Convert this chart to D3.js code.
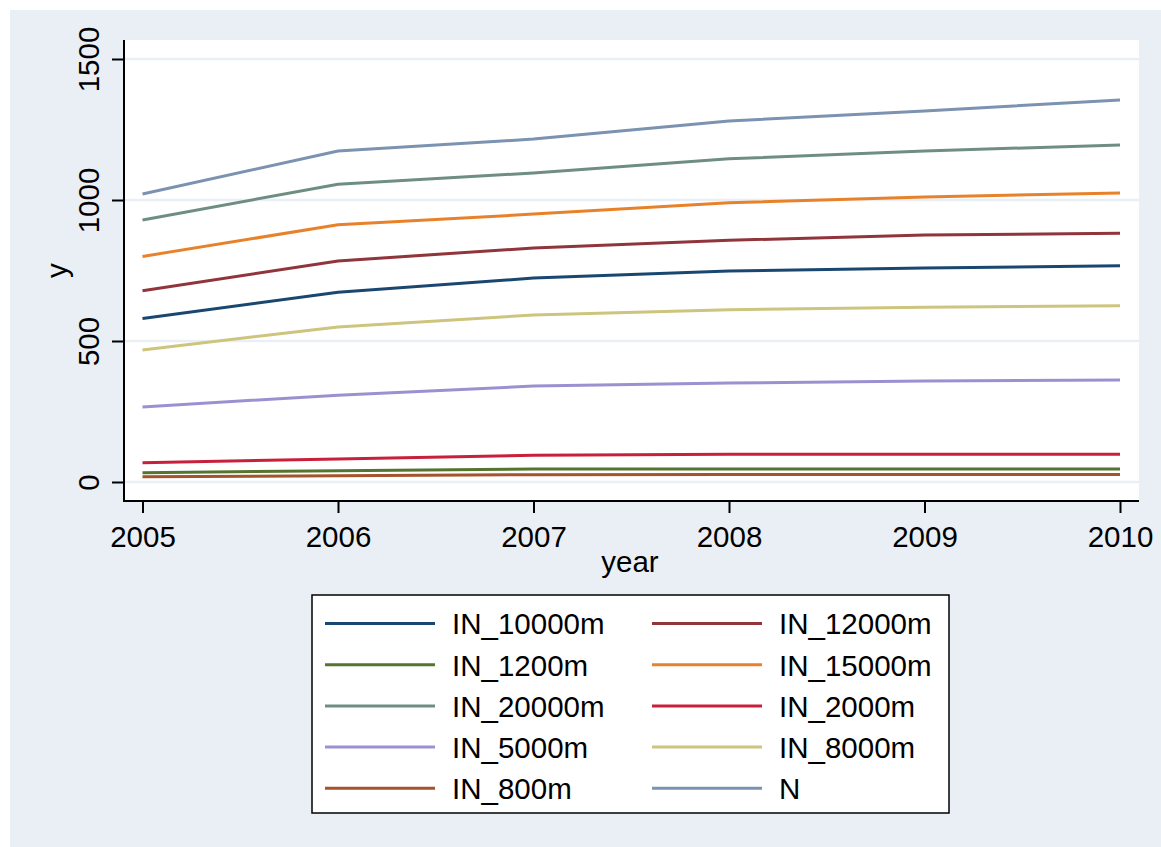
<!DOCTYPE html>
<html>
<head>
<meta charset="utf-8">
<script src="https://cdn.jsdelivr.net/npm/d3@7"></script>
<style>
  html, body { margin: 0; padding: 0; background: #ffffff; }
  svg { display: block; font-family: "Liberation Sans", Arial, sans-serif; }
</style>
</head>
<body>
<svg id="chart" width="1161" height="847"></svg>
<script>
// Years on the x axis
const years = [2005, 2006, 2007, 2008, 2009, 2010];

// One array per variable, one value per year
const IN_10000m = [580, 673, 723, 748, 759, 767];
const IN_12000m = [678, 784, 830, 857, 876, 882];
const IN_1200m  = [33, 40, 46, 46, 46, 46];
const IN_15000m = [800, 912, 950, 990, 1011, 1025];
const IN_20000m = [929, 1056, 1096, 1146, 1174, 1195];
const IN_2000m  = [68, 82, 95, 98, 98, 98];
const IN_5000m  = [266, 308, 340, 351, 358, 362];
const IN_8000m  = [468, 550, 592, 611, 620, 625];
const IN_800m   = [19, 22, 26, 27, 27, 27];
const N_total   = [1021, 1174, 1216, 1280, 1316, 1355];

// Series order (legend order) and names
const seriesNames = ["IN_10000m", "IN_12000m", "IN_1200m", "IN_15000m", "IN_20000m",
                     "IN_2000m", "IN_5000m", "IN_8000m", "IN_800m", "N"];
const seriesValues = [IN_10000m, IN_12000m, IN_1200m, IN_15000m, IN_20000m,
                      IN_2000m, IN_5000m, IN_8000m, IN_800m, N_total];
const seriesColors = ["#1a476f", "#90353b", "#55752f", "#e8822a", "#6e8e84",
                      "#c8203a", "#9a92d0", "#cdc47e", "#a5532c", "#7b92b0"];

// Axis ticks
const yTicks = [0, 500, 1000, 1500];
const xTicks = years;

const bg = "#eaeef5";
const fontSize = 29.5;
const svg = d3.select("#chart");

// Graph region
svg.append("rect").attr("x", 10).attr("y", 10)
  .attr("width", 1151).attr("height", 837).attr("fill", bg);

// Plot region
const plot = { left: 124, right: 1139, top: 40, bottom: 501 };
svg.append("rect")
  .attr("x", plot.left).attr("y", plot.top)
  .attr("width", plot.right - plot.left).attr("height", plot.bottom - plot.top)
  .attr("fill", "#ffffff");

const x = d3.scaleLinear().domain([2005, 2010]).range([142.5, 1120]);
const y = d3.scaleLinear().domain([0, 1500]).range([482, 59]);

// Horizontal grid lines
svg.append("g").selectAll("line").data(yTicks).join("line")
  .attr("x1", plot.left).attr("x2", plot.right)
  .attr("y1", d => y(d)).attr("y2", d => y(d))
  .attr("stroke", bg).attr("stroke-width", 2.5);

// Series lines
const line = d3.line().x((d, i) => x(years[i])).y(d => y(d));
svg.append("g").selectAll("path").data(seriesValues).join("path")
  .attr("d", d => line(d))
  .attr("fill", "none")
  .attr("stroke", (d, i) => seriesColors[i])
  .attr("stroke-width", 3)
  .attr("stroke-linejoin", "round");

// Y axis
const yAxis = d3.axisLeft(y).tickValues(yTicks).tickSize(12).tickPadding(0).tickFormat(d3.format("d"));
const gy = svg.append("g").attr("transform", `translate(${plot.left},0)`).call(yAxis);
gy.select(".domain").remove();
gy.selectAll(".tick line").attr("stroke", "#000").attr("stroke-width", 2);
gy.selectAll(".tick text")
  .attr("font-size", fontSize).attr("fill", "#000")
  .attr("text-anchor", "middle")
  .attr("x", null).attr("dy", null)
  .attr("transform", "translate(-25,0) rotate(-90)");
svg.append("line")
  .attr("x1", plot.left).attr("x2", plot.left)
  .attr("y1", plot.top).attr("y2", plot.bottom + 1)
  .attr("stroke", "#000").attr("stroke-width", 2);

// X axis
const xAxis = d3.axisBottom(x).tickValues(xTicks).tickSize(12).tickPadding(0).tickFormat(d3.format("d"));
const gx = svg.append("g").attr("transform", `translate(0,${plot.bottom})`).call(xAxis);
gx.select(".domain").remove();
gx.selectAll(".tick line").attr("stroke", "#000").attr("stroke-width", 2);
gx.selectAll(".tick text")
  .attr("font-size", fontSize).attr("fill", "#000")
  .attr("y", 45.5).attr("dy", null);
svg.append("line")
  .attr("x1", plot.left - 1).attr("x2", plot.right)
  .attr("y1", plot.bottom).attr("y2", plot.bottom)
  .attr("stroke", "#000").attr("stroke-width", 2);

// Axis titles
svg.append("text").attr("x", 630).attr("y", 572)
  .attr("text-anchor", "middle").attr("font-size", fontSize).text("year");
svg.append("text")
  .attr("transform", `translate(67,${(plot.top + plot.bottom) / 2}) rotate(-90)`)
  .attr("text-anchor", "middle").attr("font-size", fontSize).text("y");

// Legend
const legend = svg.append("g");
legend.append("rect")
  .attr("x", 312).attr("y", 595).attr("width", 637).attr("height", 218)
  .attr("fill", "#ffffff").attr("stroke", "#000").attr("stroke-width", 1.5);

const colX = [325, 652];
const rowY0 = 623.5, rowStep = 41.2;
const items = legend.selectAll("g.item").data(seriesNames).join("g")
  .attr("class", "item")
  .attr("transform", (d, i) => `translate(${colX[i % 2]},${rowY0 + Math.floor(i / 2) * rowStep})`);
items.append("line")
  .attr("x1", 0).attr("x2", 110).attr("y1", 0).attr("y2", 0)
  .attr("stroke", (d, i) => seriesColors[i]).attr("stroke-width", 3);
items.append("text")
  .attr("x", 127).attr("y", 10.8)
  .attr("font-size", fontSize).text(d => d);
</script>
</body>
</html>
